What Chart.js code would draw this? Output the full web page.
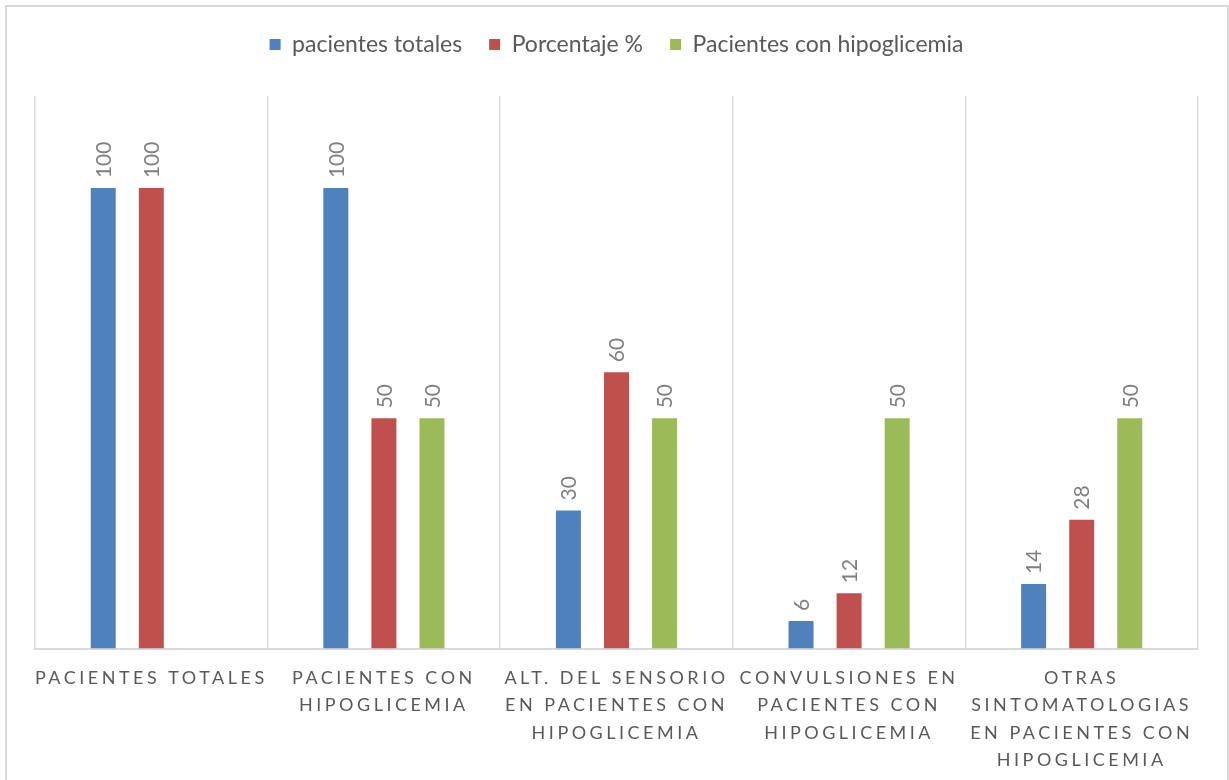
<!DOCTYPE html>
<html>
<head>
<meta charset="utf-8">
<script src="https://cdn.jsdelivr.net/npm/chart.js@4.4.0/dist/chart.umd.min.js"></script>
<style>
  html, body { margin: 0; padding: 0; background: #ffffff; }
  #wrap { position: relative; width: 1229px; height: 780px; overflow: hidden; }
  #frame { position: absolute; left: 5px; top: 5px; width: 1220px; height: 800px;
           border: 2px solid #d9d9d9; pointer-events: none; }
  canvas { display: block; }
</style>
</head>
<body>
<div id="wrap">
  <canvas id="c" width="1229" height="780"></canvas>
  <div id="frame"></div>
</div>
<script>
// Categories (multi-line labels)
const categories = [
  ['PACIENTES TOTALES'],
  ['PACIENTES CON', 'HIPOGLICEMIA'],
  ['ALT. DEL SENSORIO', 'EN PACIENTES CON', 'HIPOGLICEMIA'],
  ['CONVULSIONES EN', 'PACIENTES CON', 'HIPOGLICEMIA'],
  ['OTRAS', 'SINTOMATOLOGIAS', 'EN PACIENTES CON', 'HIPOGLICEMIA']
];

// Series
const seriesNames = ['pacientes totales', 'Porcentaje %', 'Pacientes con hipoglicemia'];
const pacientesTotales = [100, 100, 30, 6, 14];
const porcentaje = [100, 50, 60, 12, 28];
const pacientesHipoglicemia = [null, 50, 50, 50, 50];

const seriesColors = ['#4f81bd', '#c0504d', '#9bbb59'];
const FONT = 'Lato, "Open Sans", "DejaVu Sans", sans-serif';

// Rotated value labels above each bar
const valueLabels = {
  id: 'valueLabels',
  afterDatasetsDraw(chart) {
    const ctx = chart.ctx;
    ctx.save();
    ctx.font = '21px ' + FONT;
    ctx.fillStyle = '#7f7f7f';
    ctx.textAlign = 'left';
    ctx.textBaseline = 'middle';
    chart.data.datasets.forEach((ds, i) => {
      const meta = chart.getDatasetMeta(i);
      meta.data.forEach((bar, j) => {
        const v = ds.data[j];
        if (v === null || v === undefined) return;
        ctx.save();
        ctx.translate(bar.x + 1, bar.y - 10);
        ctx.rotate(-Math.PI / 2);
        ctx.fillText(String(v), 0, 0);
        ctx.restore();
      });
    });
    ctx.restore();
  }
};

// Letter-spaced category labels on the x axis
const spacedTicks = {
  id: 'spacedTicks',
  afterUpdate(chart) {
    const sx = chart.scales.x;
    if (sx && !sx._spaced) {
      const orig = sx.drawLabels.bind(sx);
      sx.drawLabels = function (area) {
        const ctx = chart.ctx;
        ctx.save();
        ctx.letterSpacing = '3.5px';
        orig(area);
        ctx.restore();
      };
      sx._spaced = true;
    }
  }
};

// Extra room between the legend row and the plot
const legendGap = {
  id: 'legendGap',
  beforeLayout(chart) {
    const lg = chart.legend;
    if (lg && !lg._gap) {
      const fit = lg.fit.bind(lg);
      lg.fit = function () {
        fit();
        this.height += 30;
      };
      lg._gap = true;
    }
  }
};

new Chart(document.getElementById('c'), {
  type: 'bar',
  data: {
    labels: categories,
    datasets: [
      { label: seriesNames[0], data: pacientesTotales, backgroundColor: seriesColors[0] },
      { label: seriesNames[1], data: porcentaje, backgroundColor: seriesColors[1] },
      { label: seriesNames[2], data: pacientesHipoglicemia, backgroundColor: seriesColors[2] }
    ]
  },
  options: {
    responsive: false,
    animation: false,
    devicePixelRatio: 1,
    categoryPercentage: 0.62,
    barPercentage: 0.52,
    layout: { padding: { left: 35, right: 31, top: 6, bottom: -10 } },
    plugins: {
      tooltip: { enabled: false },
      legend: {
        position: 'top',
        align: 'center',
        labels: {
          boxWidth: 11,
          boxHeight: 11,
          padding: 27,
          color: '#595959',
          font: { family: FONT, size: 23 }
        }
      }
    },
    scales: {
      x: {
        offset: true,
        grid: { display: true, offset: true, color: '#d9d9d9', lineWidth: 1.5, drawTicks: false },
        border: { display: true, color: '#d9d9d9', width: 2 },
        ticks: {
          color: '#595959',
          font: { family: FONT, size: 18, lineHeight: 1.52 },
          padding: 16,
          maxRotation: 0,
          minRotation: 0,
          autoSkip: false
        }
      },
      y: {
        display: false,
        min: 0,
        max: 120
      }
    }
  },
  plugins: [valueLabels, spacedTicks, legendGap]
});
</script>
</body>
</html>
